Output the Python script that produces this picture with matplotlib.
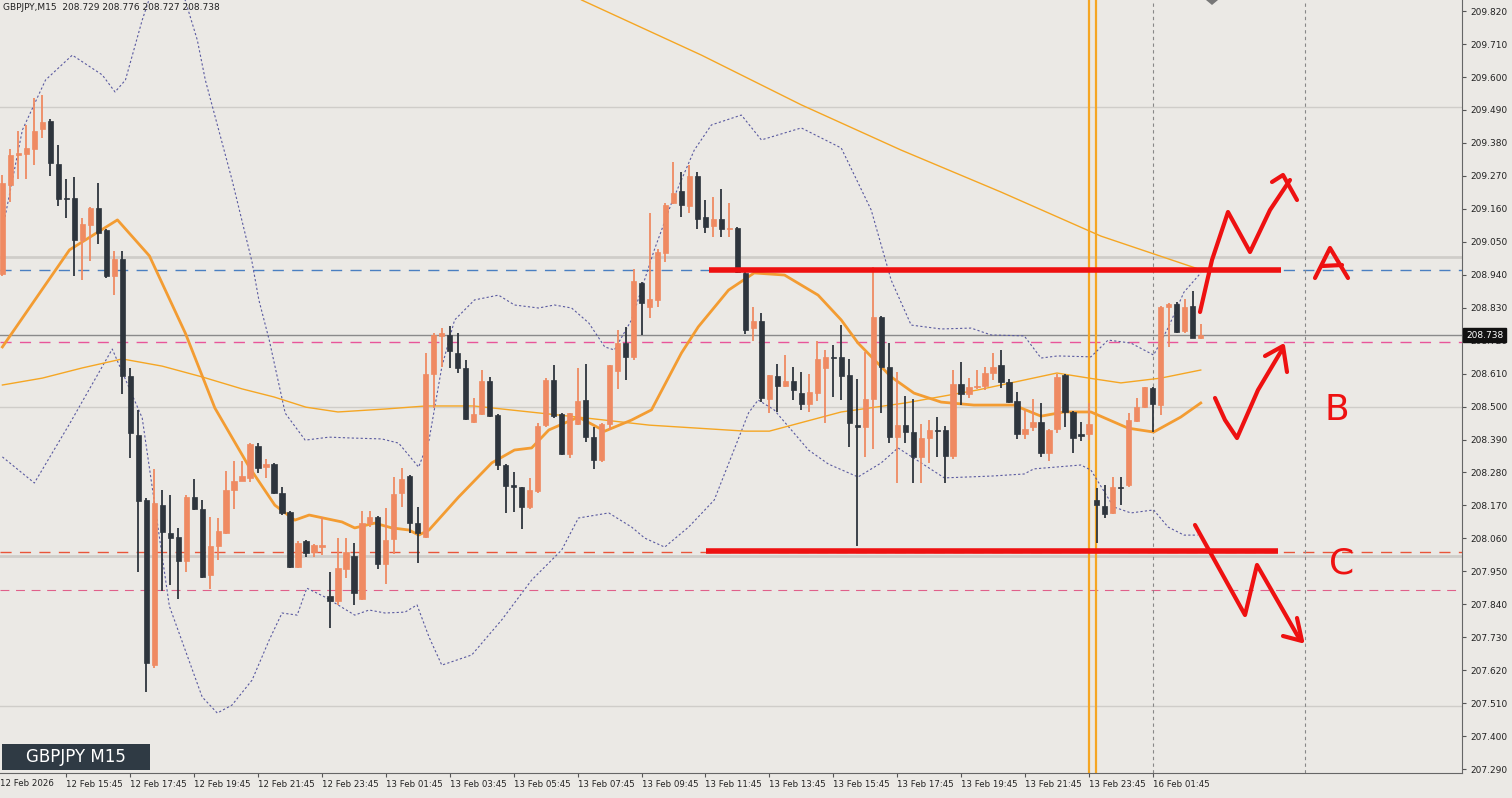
import matplotlib
matplotlib.use("Agg")
import matplotlib.pyplot as plt
import numpy as np

# ---------------- data ----------------
opens = [208.942,209.239,209.339,209.343,209.359,209.426,209.453,209.310,209.196,209.196,
209.055,209.105,209.162,209.089,208.935,208.992,208.602,208.405,208.188,207.637,
208.171,208.078,208.064,207.984,208.198,208.158,207.938,208.034,208.078,208.221,
208.251,208.261,208.368,208.298,208.308,208.211,208.148,207.964,208.051,208.014,
208.031,207.867,207.851,207.958,208.001,207.857,208.111,208.131,207.974,208.058,
208.211,208.268,208.111,208.064,208.608,208.737,208.740,208.679,208.629,208.448,
208.475,208.585,208.472,208.305,208.238,208.231,208.165,208.218,208.438,208.589,
208.475,208.341,208.442,208.522,208.398,208.321,208.442,208.619,208.712,208.666,
208.912,208.832,208.856,209.012,209.179,209.219,209.169,209.269,209.132,209.102,
209.125,209.092,209.095,208.945,208.761,208.785,208.525,208.602,208.569,208.585,
208.545,208.508,208.545,208.629,208.666,208.666,208.605,208.438,208.432,208.525,
208.799,208.632,208.398,208.438,208.415,208.331,208.395,208.422,208.422,208.335,
208.575,208.542,208.565,208.569,208.612,208.639,208.582,208.518,208.408,208.432,
208.448,208.345,208.425,208.605,208.482,208.408,208.408,208.188,208.168,208.144,
208.231,208.238,208.452,208.498,208.562,208.505,208.832,208.842,208.752,208.835,
208.729]
highs = [209.273,209.359,209.419,209.439,209.530,209.540,209.460,209.373,209.259,209.266,
209.129,209.166,209.246,209.092,209.019,209.019,208.629,208.489,208.195,208.292,
208.221,208.204,208.094,208.204,208.258,208.188,208.131,208.128,208.285,208.318,
208.318,208.378,208.378,208.325,208.311,208.231,208.151,208.051,208.054,208.041,
208.131,207.948,208.061,208.061,208.044,208.151,208.151,208.134,208.161,208.265,
208.295,208.271,208.165,208.679,208.744,208.762,208.769,208.746,208.656,208.529,
208.622,208.599,208.475,208.308,208.281,208.231,208.261,208.445,208.595,208.639,
208.478,208.478,208.629,208.642,208.432,208.445,208.639,208.756,208.766,208.958,
208.915,209.146,209.025,209.179,209.316,209.283,209.306,209.283,209.189,209.199,
209.226,209.179,209.099,208.949,208.832,208.812,208.605,208.642,208.672,208.632,
208.615,208.609,208.718,208.689,208.706,208.772,208.659,208.592,208.682,208.965,
208.802,208.712,208.615,208.535,208.525,208.442,208.455,208.465,208.435,208.622,
208.649,208.595,208.622,208.632,208.679,208.689,208.592,208.548,208.488,208.525,
208.512,208.425,208.609,208.609,208.485,208.448,208.512,208.228,208.238,208.265,
208.265,208.478,208.529,208.565,208.565,208.836,208.845,208.849,208.859,208.886,
208.776]
lows = [208.935,209.182,209.259,209.259,209.306,209.396,209.269,209.169,209.129,208.935,
208.922,208.985,209.042,208.929,208.872,208.542,208.328,207.948,207.547,207.627,
207.884,207.904,207.857,207.948,208.155,207.928,207.891,207.988,208.075,208.158,
208.251,208.248,208.278,208.261,208.208,208.138,207.961,207.961,207.998,207.998,
208.004,207.760,207.837,207.928,207.837,207.854,208.098,207.958,207.907,208.008,
208.165,208.078,207.978,208.061,208.495,208.632,208.629,208.612,208.455,208.445,
208.472,208.465,208.288,208.144,208.148,208.091,208.158,208.211,208.432,208.462,
208.338,208.328,208.438,208.382,208.291,208.315,208.422,208.559,208.589,208.656,
208.740,208.796,208.832,208.982,209.176,209.132,209.146,209.092,209.079,209.065,
209.065,209.065,208.945,208.741,208.718,208.515,208.478,208.482,208.565,208.522,
208.488,208.482,208.518,208.445,208.532,208.522,208.365,208.034,208.331,208.358,
208.478,208.378,208.245,208.378,208.245,208.245,208.311,208.331,208.245,208.325,
208.505,208.529,208.559,208.555,208.589,208.562,208.512,208.391,208.391,208.418,
208.331,208.318,208.412,208.432,208.345,208.385,208.388,208.044,208.128,208.141,
208.171,208.231,208.448,208.495,208.415,208.472,208.699,208.746,208.746,208.729,
208.727]
closes = [209.246,209.339,209.346,209.363,209.419,209.450,209.313,209.193,209.193,209.055,
209.109,209.162,209.079,208.935,208.992,208.602,208.412,208.185,207.644,208.178,
208.081,208.061,207.984,208.198,208.158,207.931,208.034,208.084,208.221,208.251,
208.268,208.375,208.295,208.308,208.211,208.144,207.964,208.044,208.011,208.037,
208.037,207.851,207.961,208.014,207.878,208.111,208.131,207.974,208.054,208.208,
208.258,208.111,208.078,208.608,208.740,208.746,208.686,208.629,208.458,208.475,
208.585,208.468,208.305,208.234,208.231,208.165,208.221,208.435,208.589,208.468,
208.341,208.478,208.519,208.398,208.321,208.442,208.639,208.712,208.666,208.918,
208.845,208.859,209.015,209.172,209.212,209.172,209.269,209.125,209.099,209.125,
209.092,209.095,208.949,208.755,208.785,208.529,208.605,208.569,208.585,208.555,
208.508,208.549,208.659,208.666,208.662,208.602,208.445,208.432,208.525,208.799,
208.632,208.398,208.438,208.415,208.331,208.395,208.422,208.418,208.335,208.575,
208.542,208.565,208.569,208.612,208.632,208.582,208.515,208.408,208.425,208.448,
208.345,208.422,208.599,208.482,208.395,208.402,208.442,208.171,208.141,208.231,
208.228,208.455,208.498,208.565,208.508,208.832,208.842,208.749,208.832,208.729,
208.738]

# indicator readings (bar index, price)
ma_fast_idx = [0,8.4,14.4,18.4,22.9,26.6,30.9,34.1,36.6,38.4,42.5,44.1,46.6,48.75,50.9,52.1,53.4,57.1,61.25,64.1,66.25,68.4,72.1,75.4,78.75,81.25,85,87.1,90.9,94.1,97.9,102.1,105,107.1,111.25,114.1,117.5,121.6,126.6,130,132.9,136.25,140.9,144.1,147.5,150]
ma_fast_val = [208.699,209.023,209.123,209.003,208.745,208.495,208.298,208.171,208.121,208.138,208.115,208.095,208.111,208.095,208.088,208.071,208.088,208.198,208.312,208.355,208.362,208.422,208.465,208.418,208.455,208.489,208.679,208.766,208.889,208.946,208.939,208.872,208.789,208.712,208.599,208.545,208.515,208.505,208.505,208.468,208.482,208.482,208.428,208.415,208.465,208.512]
ma_slow_idx = [0,5,10,15,20,25,30,34,38,42,48,53,59,66,72,81,93,96,105,113,122,125,132,136,140,145,150]
ma_slow_val = [208.572,208.595,208.629,208.659,208.635,208.599,208.559,208.532,208.498,208.482,208.492,208.502,208.502,208.482,208.465,208.438,208.418,208.418,208.482,208.512,208.555,208.572,208.612,208.595,208.579,208.595,208.622]
ma_long_idx = [60,72.5,87.5,100,112.5,125,137.5,149.4]
ma_long_val = [210.10,209.857,209.673,209.507,209.356,209.216,209.069,208.962]
bb_up_idx = [0,2.5,5.4,8.75,12.5,14.1,15.4,17.5,18.75,22.5,24.4,25.4,28.75,31.25,32.1,33.4,35.4,37.9,40.9,43.75,47.5,49.6,52.1,53.4,55,56.6,59.1,62.1,64.1,67.1,69.1,71.25,73.4,75.4,76.6,78.75,81.6,83.75,86.6,88.75,92.5,95,100,105,108.75,111.25,113.75,117.5,121.25,123.75,127.9,130,132.1,136.25,138.4,141.25,144.1,145.9,147.9,150]
bb_up_val = [209.089,209.423,209.590,209.673,209.607,209.550,209.590,209.790,209.890,209.890,209.723,209.590,209.256,208.982,208.856,208.722,208.478,208.388,208.398,208.395,208.392,208.378,208.298,208.388,208.632,208.789,208.856,208.872,208.839,208.829,208.839,208.829,208.779,208.699,208.689,208.789,209.023,209.179,209.356,209.440,209.473,209.390,209.430,209.363,209.156,208.922,208.772,208.759,208.762,208.739,208.736,208.662,208.669,208.666,208.722,208.712,208.672,208.762,208.882,208.946]
bb_lo_idx = [0,4,8.4,13.75,17.5,20.9,25,26.9,28.75,31.25,33.4,35,36.9,38.1,40.4,44.1,45.9,47.9,50.4,51.9,53.4,55,58.75,62.5,66.25,70,72.1,75.9,78.75,80.4,82.9,85.9,89.1,93.4,94.6,96.6,100.9,103.4,107.1,110,112.1,115,117.9,123.75,127.9,129.1,135,136.25,139.1,141.25,144.1,145.9,147.9,149.6]
bb_lo_val = [208.332,208.245,208.442,208.692,208.462,207.834,207.531,207.477,207.504,207.587,207.721,207.811,207.804,207.894,207.864,207.804,207.821,207.811,207.814,207.838,207.731,207.637,207.671,207.788,207.921,208.021,208.128,208.145,208.098,208.061,208.031,208.098,208.188,208.479,208.522,208.489,208.355,208.308,208.265,208.312,208.362,208.312,208.262,208.268,208.275,208.292,208.305,208.288,208.165,208.145,208.155,208.098,208.071,208.071]

tick_bars = [8,16,24,32,40,48,56,64,72,80,88,96,104,112,120,128,136,144]
tick_labels = ["12 Feb 15:45","12 Feb 17:45","12 Feb 19:45","12 Feb 21:45","12 Feb 23:45",
               "13 Feb 01:45","13 Feb 03:45","13 Feb 05:45","13 Feb 07:45","13 Feb 09:45",
               "13 Feb 11:45","13 Feb 13:45","13 Feb 15:45","13 Feb 17:45","13 Feb 19:45",
               "13 Feb 21:45","13 Feb 23:45","16 Feb 01:45"]
price_ticks = [round(209.820 - 0.110*i, 3) for i in range(24)]
level_A = 208.956
level_C = 208.018
last_price = 208.738

# ---------------- figure ----------------
BG = "#ebe9e5"
BULL = "#ef8a62"
BEAR = "#2e353d"
W, H = 1512, 798
fig = plt.figure(figsize=(W/100, H/100), dpi=100, facecolor=BG)
ax = fig.add_axes([0, 25/H, 1462/W, 1 - 25/H])
ax.set_facecolor(BG)
ymin, ymax = 207.277, 209.857
ax.set_ylim(ymin, ymax)
ax.set_xlim(-0.3, 182.7)

n = min(len(opens), len(highs), len(lows), len(closes))
o = np.array(opens[:n]); h = np.array(highs[:n]); l = np.array(lows[:n]); c = np.array(closes[:n])
x = np.arange(n)

for lv, lw in [(209.5,1.0),(209.0,2.0),(208.5,1.0),(208.0,2.0),(207.5,1.0)]:
    ax.axhline(lv, color="#cfcdc9", lw=lw, zorder=1)

ax.axhline(level_A, color="#4a7fc1", lw=1, ls=(0,(8,6)), zorder=2)
ax.axhline(208.716, color="#e8559a", lw=1, ls=(0,(8,6)), zorder=2)
ax.axhline(208.015, color="#e8553a", lw=1, ls=(0,(8,6)), zorder=2)
ax.axhline(207.888, color="#e0608a", lw=0.8, ls=(0,(8,6)), zorder=2)
ax.axhline(last_price, color="#8a8a8a", lw=1, zorder=2)

ax.axvline(136.0, color="#f5a623", lw=1.6, zorder=2)
ax.axvline(136.9, color="#f5a623", lw=1.6, zorder=2)
ax.axvline(144.0, color="#888888", lw=0.8, ls=(0,(3,3)), zorder=2)
ax.axvline(163.0, color="#888888", lw=0.8, ls=(0,(3,3)), zorder=2)

ax.plot(bb_up_idx, bb_up_val, color="#5a5aa0", lw=0.8, ls=(0,(2,2)), zorder=3)
ax.plot(bb_lo_idx, bb_lo_val, color="#5a5aa0", lw=0.8, ls=(0,(2,2)), zorder=3)
ax.plot(ma_slow_idx, ma_slow_val, color="#f5a623", lw=1.0, zorder=3)
ax.plot(ma_long_idx, ma_long_val, color="#f5a623", lw=1.0, zorder=3)
ax.plot(ma_fast_idx, ma_fast_val, color="#f39c32", lw=2.0, zorder=4)

cols = np.where(c >= o, BULL, BEAR)
ax.vlines(x, l, h, colors=cols, lw=1.3, zorder=5)
bottoms = np.minimum(o, c)
heights = np.maximum(np.abs(c - o), 0.004)
ax.bar(x, heights, bottom=bottoms, width=0.65, color=cols, edgecolor=cols, lw=0.5, zorder=6)

ax.hlines([level_A, level_C], [88.5, 88.1], [160.0, 159.7], colors="#ee1111", lw=4, zorder=7)

ax.set_xticks(tick_bars)
ax.set_xticklabels(tick_labels, fontsize=6.2, ha="left", color="#222222")
ax.tick_params(axis="x", length=3, pad=2, color="#555555")
ax.yaxis.tick_right()
ax.set_yticks(price_ticks)
ax.set_yticklabels([f"{p:.3f}" for p in price_ticks], fontsize=6.5, color="#222222")
ax.tick_params(axis="y", length=3, pad=3, color="#555555")
for s in ["top", "left"]:
    ax.spines[s].set_visible(False)
for s in ["right", "bottom"]:
    ax.spines[s].set_color("#666666")
ax.text(0.0, -0.008, "12 Feb 2026", transform=ax.transAxes, fontsize=6.2, va="top", ha="left", color="#222222")

ax.annotate(f"{last_price:.3f}", xy=(1.0, last_price), xycoords=("axes fraction", "data"),
            xytext=(3, 0), textcoords="offset points", fontsize=6.5, color="white", va="center", ha="left",
            zorder=20, annotation_clip=False,
            bbox=dict(boxstyle="square,pad=0.3", fc="#111111", ec="#111111"))

fig.text(3/W, 1 - 8/H, "GBPJPY,M15  208.729 208.776 208.727 208.738", fontsize=6.5, va="center", color="#222222")
fig.patches.append(plt.Rectangle((2/W, 28/H), 148/W, 26/H, transform=fig.transFigure, fc="#2f3a44", ec="none", zorder=10))
fig.text(76/W, 41/H, "GBPJPY M15", fontsize=12, color="white", ha="center", va="center", zorder=11)

def P(pts):
    return [p[0]/W for p in pts], [1 - p[1]/H for p in pts]

red = "#ee1111"
strokes = [
    [(1200,312),(1212,260),(1228,212),(1250,252),(1270,210),(1290,180)],
    [(1272,182),(1283,175),(1297,200)],
    [(1215,398),(1225,420),(1237,438),(1258,390),(1283,348)],
    [(1265,356),(1283,346),(1287,372)],
    [(1195,525),(1220,570),(1245,615),(1257,565),(1280,605),(1300,640)],
    [(1283,636),(1302,641),(1297,618)],
    [(1315,278),(1330,248),(1348,278)], [(1322,266),(1342,265)],
]
for s in strokes:
    xs, ys = P(s)
    fig.add_artist(plt.Line2D(xs, ys, color=red, lw=3, solid_capstyle="round", solid_joinstyle="round", zorder=12))
fig.text(1337/W, 1 - 410/H, "B", fontsize=26, color=red, ha="center", va="center")
fig.text(1342/W, 1 - 563/H, "C", fontsize=26, color=red, ha="center", va="center")

fig.add_artist(plt.Polygon([[1206/W, 1.0], [1218/W, 1.0], [1212/W, 1 - 5/H]], closed=True, fc="#777777", ec="none"))

fig.savefig("out.png", dpi=100, facecolor=BG)
